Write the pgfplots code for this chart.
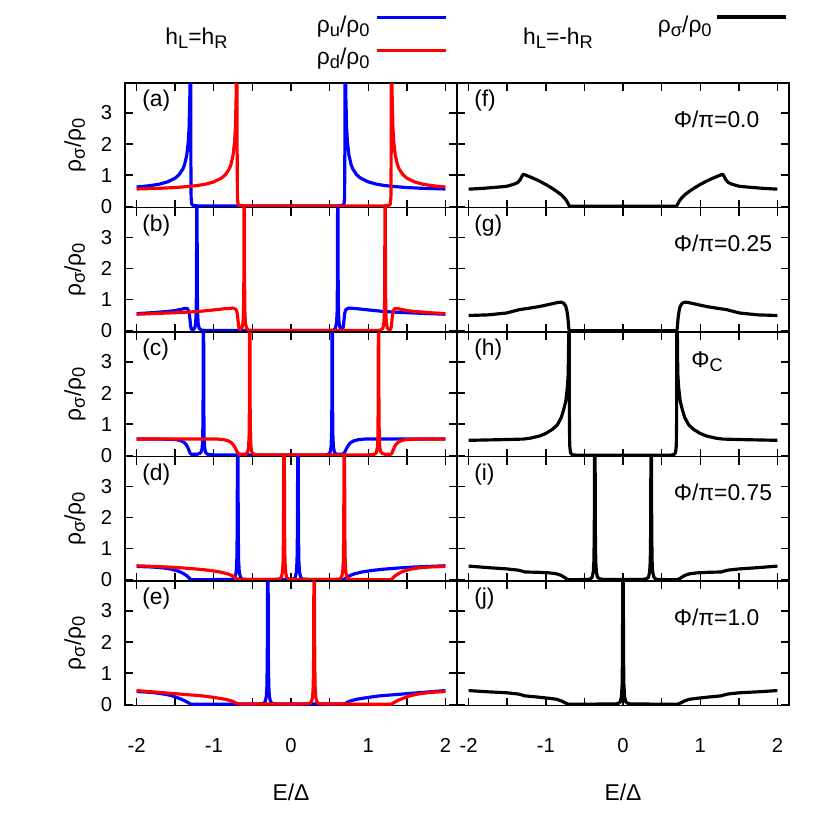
\documentclass[border=0pt]{standalone}
\usepackage{fontspec}
\setmainfont{Liberation Sans}
\usepackage{pgfplots}
\usepackage{pgfplotstable}
\pgfplotsset{compat=1.18}
\newcommand\fs{\fontsize{13}{15.6}\selectfont}
\newcommand\ft{\fontsize{11.5}{13.8}\selectfont}
\newcommand\sub[1]{\raisebox{-0.17em}{\fontsize{10.4}{12}\selectfont #1}}

% ---------- left column: rho_u (blue); rho_d is its mirror image E -> -E ----------
\pgfplotstableread{
E r
-2.00 0.618
-1.90 0.641
-1.80 0.671
-1.70 0.714
-1.60 0.783
-1.50 0.905
-1.45 1.013
-1.40 1.200
-1.38 1.324
-1.35 1.640
-1.33 2.087
-1.32 2.537
-1.31 3.56
-1.305 5.0
-1.300 8.0
-1.298 2.0
-1.294 0.3
-1.287 0.08
-1.27 0.03
-1.20 0.01
0.60 0.01
0.67 0.03
0.687 0.08
0.694 0.3
0.698 2.0
0.700 8.0
0.705 5.0
0.71 3.56
0.72 2.537
0.73 2.087
0.75 1.640
0.78 1.324
0.80 1.200
0.85 1.013
0.90 0.905
1.00 0.783
1.10 0.714
1.20 0.671
1.30 0.641
1.50 0.601
1.70 0.577
2.00 0.555
}\tabA

\pgfplotstableread{
E r
-2.00 0.55
-1.80 0.58
-1.60 0.62
-1.50 0.65
-1.42 0.69
-1.37 0.72
-1.34 0.71
-1.32 0.60
-1.31 0.40
-1.30 0.15
-1.29 0.05
-1.28 0.03
-1.26 0.05
-1.245 0.10
-1.235 0.25
-1.228 0.6
-1.224 1.5
-1.221 4.5
-1.219 8
-1.217 4.5
-1.214 1.5
-1.21 0.6
-1.203 0.25
-1.19 0.08
-1.16 0.02
-1.10 0.01
0.50 0.01
0.55 0.02
0.575 0.08
0.59 0.25
0.597 0.6
0.601 1.5
0.604 4.5
0.606 8
0.608 4.5
0.611 1.5
0.615 0.6
0.622 0.25
0.635 0.10
0.65 0.05
0.665 0.05
0.675 0.10
0.685 0.30
0.695 0.55
0.71 0.68
0.75 0.73
0.85 0.71
1.00 0.67
1.20 0.62
1.40 0.59
1.60 0.57
1.80 0.55
2.00 0.53
}\tabB

\pgfplotstableread{
E r
-2.00 0.52
-1.70 0.52
-1.55 0.51
-1.48 0.50
-1.43 0.47
-1.39 0.42
-1.36 0.35
-1.34 0.27
-1.32 0.15
-1.305 0.06
-1.29 0.03
-1.22 0.03
-1.18 0.06
-1.16 0.12
-1.15 0.25
-1.143 0.6
-1.139 1.5
-1.136 4.5
-1.134 8
-1.132 4.5
-1.129 1.5
-1.125 0.6
-1.118 0.25
-1.105 0.08
-1.08 0.03
-1.00 0.01
0.45 0.01
0.48 0.03
0.505 0.08
0.518 0.25
0.525 0.6
0.529 1.5
0.532 4.5
0.534 8
0.536 4.5
0.539 1.5
0.543 0.6
0.55 0.25
0.565 0.08
0.59 0.03
0.66 0.03
0.685 0.06
0.70 0.12
0.72 0.22
0.74 0.31
0.77 0.40
0.81 0.46
0.87 0.50
0.95 0.52
1.20 0.52
1.60 0.52
2.00 0.52
}\tabC

\pgfplotstableread{
E r
-2.00 0.43
-1.80 0.41
-1.65 0.38
-1.55 0.34
-1.45 0.27
-1.40 0.21
-1.35 0.13
-1.32 0.06
-1.30 0.01
-1.28 0.00
-0.80 0.01
-0.75 0.02
-0.725 0.08
-0.71 0.25
-0.702 0.6
-0.697 1.5
-0.693 4.5
-0.690 8
-0.687 4.5
-0.683 1.5
-0.678 0.6
-0.67 0.25
-0.655 0.08
-0.63 0.02
-0.55 0.01
0.00 0.01
0.03 0.02
0.055 0.08
0.07 0.25
0.078 0.6
0.083 1.5
0.087 4.5
0.090 8
0.093 4.5
0.097 1.5
0.102 0.6
0.11 0.25
0.125 0.08
0.15 0.02
0.25 0.01
0.66 0.01
0.69 0.02
0.70 0.03
0.72 0.07
0.76 0.13
0.82 0.19
0.92 0.25
1.05 0.30
1.20 0.34
1.40 0.38
1.60 0.41
1.80 0.43
2.00 0.45
}\tabD

\pgfplotstableread{
E r
-2.00 0.41
-1.80 0.38
-1.65 0.33
-1.55 0.28
-1.47 0.21
-1.40 0.14
-1.35 0.08
-1.31 0.02
-1.29 0.00
-0.45 0.01
-0.36 0.02
-0.335 0.08
-0.32 0.25
-0.312 0.6
-0.307 1.5
-0.303 4.5
-0.300 8
-0.297 4.5
-0.293 1.5
-0.288 0.6
-0.28 0.25
-0.265 0.08
-0.24 0.02
-0.15 0.01
0.66 0.01
0.70 0.02
0.72 0.05
0.76 0.10
0.85 0.16
1.00 0.22
1.15 0.27
1.30 0.30
1.50 0.34
1.75 0.39
2.00 0.44
}\tabE

% ---------- right column: rho_sigma (black), symmetric in E; E<=0 half ----------
\pgfplotstableread{
E r
-2.00 0.55
-1.85 0.57
-1.74 0.59
-1.60 0.62
-1.51 0.64
-1.45 0.68
-1.40 0.72
-1.36 0.77
-1.33 0.86
-1.31 0.96
-1.29 1.03
-1.24 0.98
-1.18 0.92
-1.10 0.83
-1.00 0.70
-0.92 0.58
-0.86 0.48
-0.80 0.37
-0.76 0.27
-0.73 0.17
-0.71 0.08
-0.70 0.03
-0.69 0.00
0.00 0.00
}\tabF

\pgfplotstableread{
E r
-2.00 0.49
-1.75 0.51
-1.51 0.57
-1.34 0.68
-1.20 0.73
-1.08 0.78
-0.95 0.85
-0.84 0.91
-0.80 0.92
-0.765 0.88
-0.74 0.78
-0.725 0.62
-0.713 0.40
-0.705 0.15
-0.70 0.04
-0.69 0.00
0.00 0.00
}\tabG

\pgfplotstableread{
E r
-2.00 0.48
-1.60 0.50
-1.29 0.52
-1.20 0.55
-1.08 0.62
-1.00 0.70
-0.91 0.84
-0.85 0.98
-0.80 1.21
-0.77 1.45
-0.74 1.75
-0.72 2.20
-0.71 2.61
-0.705 3.5
-0.702 6
-0.697 6
-0.694 1.0
-0.690 0.3
-0.680 0.08
-0.66 0.02
-0.60 0.00
0.00 0.00
}\tabH

\pgfplotstableread{
E r
-2.00 0.44
-1.75 0.39
-1.51 0.35
-1.36 0.31
-1.31 0.28
-1.27 0.25
-1.10 0.24
-0.95 0.22
-0.86 0.19
-0.80 0.14
-0.76 0.08
-0.73 0.03
-0.70 0.00
-0.45 0.01
-0.42 0.03
-0.40 0.08
-0.385 0.25
-0.377 0.6
-0.372 1.5
-0.368 4.5
-0.365 8
-0.362 4.5
-0.358 1.5
-0.353 0.6
-0.345 0.25
-0.33 0.08
-0.30 0.03
-0.25 0.01
0.00 0.01
}\tabI

\pgfplotstableread{
E r
-2.00 0.44
-1.75 0.40
-1.51 0.37
-1.36 0.33
-1.31 0.30
-1.27 0.27
-1.10 0.23
-0.95 0.19
-0.86 0.16
-0.80 0.11
-0.76 0.06
-0.73 0.02
-0.70 0.00
-0.10 0.01
-0.06 0.03
-0.035 0.08
-0.02 0.25
-0.012 0.6
-0.007 1.5
-0.003 4.5
0.000 8
}\tabJ

\definecolor{cu}{rgb}{0,0,1}
\definecolor{cd}{rgb}{1,0,0}

\pgfplotsset{
  panel/.style={
    width=6.64cm, height=2.49cm, scale only axis, anchor=north west,
    xmin=-2.15, xmax=2.15, ymin=-0.04, ymax=3.96,
    xtick={-2,-1.5,-1,-0.5,0,0.5,1,1.5,2}, ytick={0,1,2,3},
    xticklabels={}, yticklabels={},
    major tick length=0.16cm,
    tick style={line width=0.8pt, black},
    axis line style={line width=0.9pt},
    tick label style={font=\ft},
    every axis plot/.append style={line width=1.8pt, line join=round},
  },
  leftcol/.style={yticklabels={0,1,2,3},
    yticklabel style={anchor=east, inner sep=0pt, xshift=-0.25cm}},
  bottomrow/.style={xticklabels={-2,,-1,,0,,1,,2},
    xticklabel style={anchor=base, yshift=-0.94cm}},
}
\newcommand\plab[1]{\node[anchor=west, inner sep=0pt, font=\fs] at (rel axis cs:0.051,0.855) {#1};}
\newcommand\phil[2]{\node[anchor=west, inner sep=0pt, font=\fs] at (rel axis cs:0.652,#1) {#2};}

\begin{document}
\begin{tikzpicture}[font=\fs]
\useasboundingbox (0,0) rectangle (16.6cm,-16.6cm);

% ---- left column ----
\begin{axis}[panel, leftcol, at={(2.50cm,-1.66cm)}]
\addplot[cu] table[x index=0, y index=1] {\tabA};
\addplot[cd] table[x expr=-\thisrowno{0}, y index=1] {\tabA};
\plab{(a)}
\end{axis}
\begin{axis}[panel, leftcol, at={(2.50cm,-4.15cm)}]
\addplot[cu] table[x index=0, y index=1] {\tabB};
\addplot[cd] table[x expr=-\thisrowno{0}, y index=1] {\tabB};
\plab{(b)}
\end{axis}
\begin{axis}[panel, leftcol, at={(2.50cm,-6.64cm)}]
\addplot[cu] table[x index=0, y index=1] {\tabC};
\addplot[cd] table[x expr=-\thisrowno{0}, y index=1] {\tabC};
\plab{(c)}
\end{axis}
\begin{axis}[panel, leftcol, at={(2.50cm,-9.13cm)}]
\addplot[cu] table[x index=0, y index=1] {\tabD};
\addplot[cd] table[x expr=-\thisrowno{0}, y index=1] {\tabD};
\plab{(d)}
\end{axis}
\begin{axis}[panel, leftcol, bottomrow, at={(2.50cm,-11.62cm)}]
\addplot[cu] table[x index=0, y index=1] {\tabE};
\addplot[cd] table[x expr=-\thisrowno{0}, y index=1] {\tabE};
\plab{(e)}
\end{axis}

% ---- right column ----
\begin{axis}[panel, at={(9.14cm,-1.66cm)}]
\addplot[black] table[x index=0, y index=1] {\tabF};
\addplot[black] table[x expr=-\thisrowno{0}, y index=1] {\tabF};
\plab{(f)}
\phil{0.705}{Φ/π=0.0}
\end{axis}
\begin{axis}[panel, at={(9.14cm,-4.15cm)}]
\addplot[black] table[x index=0, y index=1] {\tabG};
\addplot[black] table[x expr=-\thisrowno{0}, y index=1] {\tabG};
\plab{(g)}
\phil{0.715}{Φ/π=0.25}
\end{axis}
\begin{axis}[panel, at={(9.14cm,-6.64cm)}]
\addplot[black] table[x index=0, y index=1] {\tabH};
\addplot[black] table[x expr=-\thisrowno{0}, y index=1] {\tabH};
\plab{(h)}
\node[anchor=west, inner sep=0pt, font=\fs] at (rel axis cs:0.705,0.76) {Φ\sub{C}};
\end{axis}
\begin{axis}[panel, at={(9.14cm,-9.13cm)}]
\addplot[black] table[x index=0, y index=1] {\tabI};
\addplot[black] table[x expr=-\thisrowno{0}, y index=1] {\tabI};
\plab{(i)}
\phil{0.715}{Φ/π=0.75}
\end{axis}
\begin{axis}[panel, bottomrow, at={(9.14cm,-11.62cm)}]
\addplot[black] table[x index=0, y index=1] {\tabJ};
\addplot[black] table[x expr=-\thisrowno{0}, y index=1] {\tabJ};
\plab{(j)}
\phil{0.71}{Φ/π=1.0}
\end{axis}

% ---- y labels ----
\foreach \yc in {-2.905,-5.395,-7.885,-10.375,-12.865}
  \node[rotate=90] at (1.50cm,\yc cm) {ρ\sub{σ}/ρ\sub{0}};
% ---- x labels ----
\node[anchor=base] at (5.82cm,-16.0cm) {E/Δ};
\node[anchor=base] at (12.46cm,-16.0cm) {E/Δ};

% ---- headers and legend ----
\node[anchor=base] at (3.93cm,-0.90cm) {h\sub{L}=h\sub{R}};
\node[anchor=base] at (11.16cm,-0.90cm) {h\sub{L}=-h\sub{R}};
\node[anchor=base east, inner sep=0pt] at (7.40cm,-0.66cm) {ρ\sub{u}/ρ\sub{0}};
\draw[cu, line width=1.8pt] (7.54cm,-0.346cm) -- (8.92cm,-0.346cm);
\node[anchor=base east, inner sep=0pt] at (7.40cm,-1.30cm) {ρ\sub{d}/ρ\sub{0}};
\draw[cd, line width=1.8pt] (7.54cm,-1.013cm) -- (8.92cm,-1.013cm);
\node[anchor=base east, inner sep=0pt] at (14.24cm,-0.66cm) {ρ\sub{σ}/ρ\sub{0}};
\draw[black, line width=1.8pt] (14.34cm,-0.34cm) -- (15.72cm,-0.34cm);
\end{tikzpicture}
\end{document}
